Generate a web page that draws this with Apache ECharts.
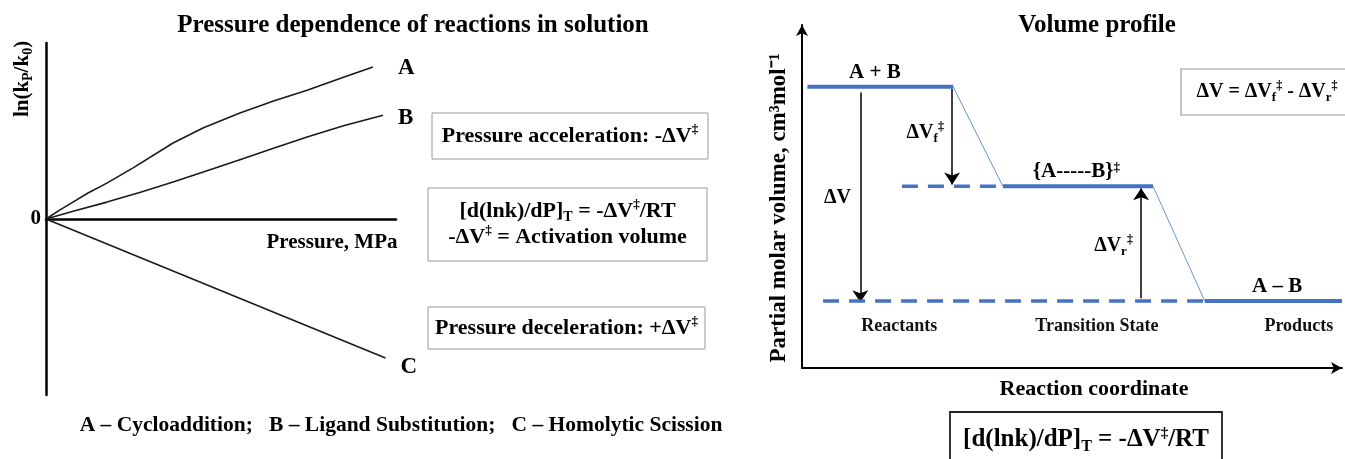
<!DOCTYPE html>
<html>
<head>
<meta charset="utf-8">
<script src="https://cdn.jsdelivr.net/npm/echarts@6/dist/echarts.min.js"></script>
<style>
html, body { margin: 0; padding: 0; background: #fff; }
#chart { width: 1345px; height: 459px; }
</style>
</head>
<body>
<div id="chart"></div>
<script>
//左图：压力依赖（Pressure, ln(kP/k0)）
var reactionNames = ['A', 'B', 'C'];
var curveA = [[0, 0], [4, 2.6], [7.7, 4.8], [12, 7.4], [17.4, 10.2], [25, 14.6], [36.3, 21.6], [45, 25.9],
	[55.4, 30.1], [65, 33.5], [74.6, 36.6], [84, 39.9], [93.4, 43.2]];
var curveB = [[0, 0], [8, 2.3], [17.4, 4.8], [27, 7.6], [36.3, 10.5], [46, 13.7], [55.4, 16.8], [65, 20.1],
	[74.6, 23.3], [85, 26.5], [96.3, 29.5]];
var curveC = [[0, 0], [97, -39.5]];
var reactionLegend = 'A – Cycloaddition;   B – Ligand Substitution;   C – Homolytic Scission';

//右图：体积剖面
var stages = ['Reactants', 'Transition State', 'Products'];
var stageX = [18, 54.6, 92];
var species = ['A + B', '{A-----B}{sup|‡}', 'A – B'];
var speciesX = [13.5, 50.8, 88];
var levelVolume = [82, 53, 19.5];
var levelSpan = [[1, 28], [37.2, 65], [74.6, 100]];
var refSpan = [[18.5, 37.2], [3.9, 74.6]];     //虚线参考（TS、产物体积）
var arrowNames = ['{b|ΔV}', '{b|ΔV}{sub|f}{sup|‡}', '{b|ΔV}{sub|r}{sup|‡}'];
var arrowX = [10.8, 27.8, 62.8];

var serif = '"Liberation Serif", "Times New Roman", serif';
var blue = '#4472c4';

function richStyles(size) {
	return {
		b: { fontFamily: serif, fontWeight: 'bold', fontSize: size, lineHeight: size + 4, color: '#000' },
		sup: { fontFamily: serif, fontWeight: 'bold', fontSize: Math.round(size * 0.6), lineHeight: Math.round(size * 0.6), verticalAlign: 'top', color: '#000' },
		sub: { fontFamily: serif, fontWeight: 'bold', fontSize: Math.round(size * 0.65), lineHeight: Math.round(size * 0.6), verticalAlign: 'bottom', color: '#000' }
	};
}

function txt(x, y, text, size, extra) {
	var el = {
		type: 'text', x: x, y: y,
		style: {
			text: text, fontFamily: serif, fontWeight: 'bold', fontSize: size, lineHeight: size + 4,
			fill: '#000', align: 'center', verticalAlign: 'middle', rich: richStyles(size)
		}
	};
	if (extra) {
		for (var k in extra) el[k] = extra[k];
	}
	return el;
}

function box(x, y, w, h, text, size, stroke, lw) {
	return {
		type: 'rect',
		shape: { x: x, y: y, width: w, height: h },
		style: { fill: '#fff', stroke: stroke, lineWidth: lw },
		textContent: {
			style: {
				text: text, fontFamily: serif, fontWeight: 'bold', fontSize: size, lineHeight: size + 4,
				fill: '#000', align: 'center', rich: richStyles(size)
			}
		},
		textConfig: { position: 'inside' }
	};
}

var series = [];

//左图曲线
[curveA, curveB, curveC].forEach(function (data, i) {
	series.push({
		type: 'line', name: reactionNames[i], xAxisIndex: 0, yAxisIndex: 0,
		data: data, symbol: 'none', silent: true,
		lineStyle: { color: '#1a1a1a', width: 1.6, join: 'round' },
		endLabel: {
			show: true, formatter: '{a}', fontFamily: serif, fontWeight: 'bold', fontSize: 23, color: '#000',
			offset: [[17, 1], [7, 3], [7, 9]][i]
		}
	});
});

//右图：能级
levelSpan.forEach(function (span, i) {
	series.push({
		type: 'line', xAxisIndex: 1, yAxisIndex: 1, symbol: 'none', silent: true,
		data: [[span[0], levelVolume[i]], [span[1], levelVolume[i]]],
		lineStyle: { color: blue, width: 4 }
	});
	if (i < levelSpan.length - 1) {
		series.push({
			type: 'line', xAxisIndex: 1, yAxisIndex: 1, symbol: 'none', silent: true,
			data: [[span[1], levelVolume[i]], [levelSpan[i + 1][0], levelVolume[i + 1]]],
			lineStyle: { color: '#6f93d8', width: 1 }
		});
	}
});

refSpan.forEach(function (span, i) {
	series.push({
		type: 'line', xAxisIndex: 1, yAxisIndex: 1, symbol: 'none', silent: true,
		data: [[span[0], levelVolume[i + 1]], [span[1], levelVolume[i + 1]]],
		lineStyle: { color: blue, width: 3.5, type: [16, 10] }
	});
});

//箭头 ΔV、ΔVf‡、ΔVr‡
series.push({
	type: 'lines', coordinateSystem: 'cartesian2d', xAxisIndex: 1, yAxisIndex: 1, silent: true,
	symbol: ['none', 'arrow'], symbolSize: [8, 12],
	lineStyle: { color: '#000', width: 1.5, opacity: 1, curveness: 0 },
	data: [
		{ coords: [[arrowX[0], levelVolume[0] - 1.7], [arrowX[0], levelVolume[2] - 0.3]] },
		{ coords: [[arrowX[1], levelVolume[0] - 0.6], [arrowX[1], levelVolume[1] + 0.5]] },
		{ coords: [[arrowX[2], levelVolume[2] + 0.8], [arrowX[2], levelVolume[1] - 0.6]] }
	]
});

//右图注记
var notes = [];
species.forEach(function (s, i) {
	notes.push({ value: [speciesX[i], levelVolume[i]], name: s, label: { position: 'top', distance: 4, fontSize: 21, rich: richStyles(21) } });
});
stages.forEach(function (s, i) {
	notes.push({ value: [stageX[i], 12.2], name: s, label: { fontWeight: 'bold', fontSize: 18, color: '#111' } });
});
notes.push({ value: [arrowX[0] - 0.8, 49.6], name: arrowNames[0], label: { position: 'left' } });
notes.push({ value: [arrowX[1] - 0.6, 68.5], name: arrowNames[1], label: { position: 'left' } });
notes.push({ value: [arrowX[2] - 0.6, 35.5], name: arrowNames[2], label: { position: 'left' } });

series.push({
	type: 'scatter', xAxisIndex: 1, yAxisIndex: 1, symbolSize: 0, silent: true,
	data: notes,
	itemStyle: { opacity: 1 },
	label: {
		show: true, position: 'inside', formatter: '{b}', fontFamily: serif, fontWeight: 'bold', fontSize: 20,
		color: '#000', opacity: 1, rich: richStyles(20)
	}
});

var option = {
	backgroundColor: '#fff',
	animation: false,
	grid: [
		{ left: 46, top: 43, width: 350, height: 352 },
		{ left: 802, top: 25, width: 540, height: 343 }
	],
	xAxis: [
		{
			type: 'value', gridIndex: 0, min: 0, max: 100,
			axisLine: { onZero: true, lineStyle: { color: '#000', width: 2.5 } },
			axisTick: { show: false }, axisLabel: { show: false }, splitLine: { show: false }
		},
		{
			type: 'value', gridIndex: 1, min: 0, max: 100,
			axisLine: { onZero: false, symbol: ['none', 'arrow'], symbolSize: [9, 11], lineStyle: { color: '#000', width: 2 } },
			axisTick: { show: false }, axisLabel: { show: false }, splitLine: { show: false }
		}
	],
	yAxis: [
		{
			type: 'value', gridIndex: 0, min: -50, max: 50, interval: 50,
			axisLine: { show: true, onZero: false, lineStyle: { color: '#000', width: 2.5 } },
			axisTick: { show: false }, splitLine: { show: false },
			axisLabel: {
				margin: 5, fontFamily: serif, fontWeight: 'bold', fontSize: 21, color: '#000',
				formatter: function (v) { return v === 0 ? '0' : ''; }
			}
		},
		{
			type: 'value', gridIndex: 1, min: 0, max: 100,
			axisLine: { show: true, onZero: false, symbol: ['none', 'arrow'], symbolSize: [9, 11], lineStyle: { color: '#000', width: 2 } },
			axisTick: { show: false }, axisLabel: { show: false }, splitLine: { show: false }
		}
	],
	graphic: [
		txt(413, 26, 'Pressure dependence of reactions in solution', 25),
		txt(23, 79, '{b|ln(k}{sub|P}{b|/k}{sub|0}{b|)}', 21, { rotation: Math.PI / 2 }),
		txt(332, 243, 'Pressure, MPa', 21),
		txt(401, 425, reactionLegend, 21.5),
		box(432, 113, 276, 46, 'Pressure acceleration: -ΔV{sup|‡}', 22, '#999', 1),
		box(428, 188, 279, 73, '[d(lnk)/dP]{sub|T} = -ΔV{sup|‡}/RT\n-ΔV{sup|‡} = Activation volume', 22, '#999', 1),
		box(428, 307, 277, 42, 'Pressure deceleration: +ΔV{sup|‡}', 22, '#999', 1),

		txt(1097, 26, 'Volume profile', 25),
		txt(779, 208, 'Partial molar volume, cm³mol⁻¹', 23, { rotation: Math.PI / 2 }),
		txt(1094, 389, 'Reaction coordinate', 22),
		box(1181, 69, 172, 46, 'ΔV = ΔV{sub|f}{sup|‡} - ΔV{sub|r}{sup|‡}', 20, '#999', 1.2),
		box(950, 412, 272, 56, '[d(lnk)/dP]{sub|T} = -ΔV{sup|‡}/RT', 25, '#222', 1.8)
	],
	series: series
};

var chart = echarts.init(document.getElementById('chart'));
chart.setOption(option);
</script>
</body>
</html>
